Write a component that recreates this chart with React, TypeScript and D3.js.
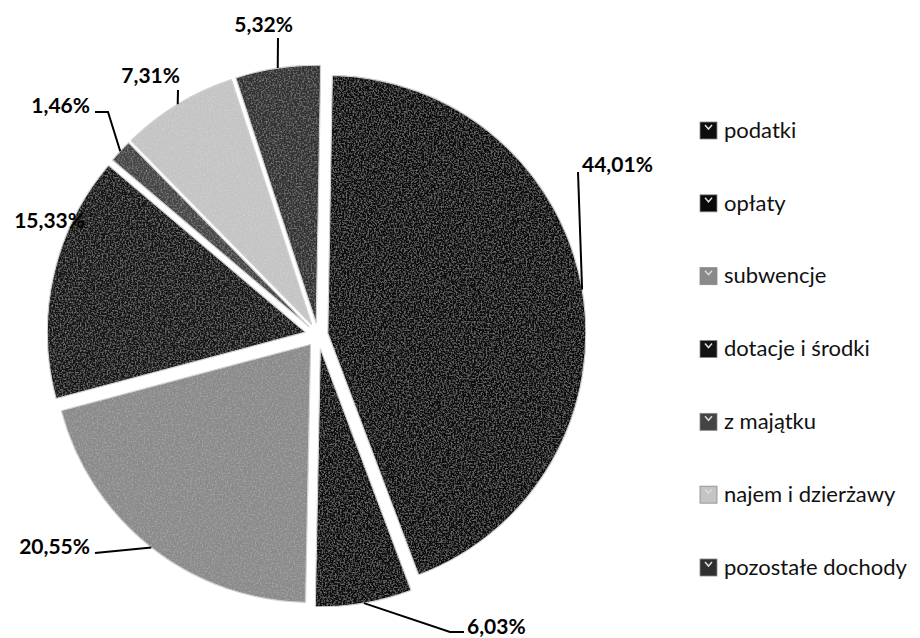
import * as d3 from "d3";
import { useEffect, useRef } from "react";

// shares of revenue (%), clockwise from 12 o'clock
const categories = [
  "podatki",
  "opłaty",
  "subwencje",
  "dotacje i środki",
  "z majątku",
  "najem i dzierżawy",
  "pozostałe dochody",
];
const shares = [44.01, 6.03, 20.55, 15.33, 1.46, 7.31, 5.32];
const shareLabels = ["44,01%", "6,03%", "20,55%", "15,33%", "1,46%", "7,31%", "5,32%"];

// style / layout
const fills = ["#0e0e0e", "#090909", "#8a8a8a", "#131313", "#444444", "#c4c4c4", "#303030"];
const explode = [10, 14, 12, 13, 12, 12, 12];
// label text anchor (x, baseline) and elbow of the leader line
const labelAt: [number, number, string][] = [
  [582, 172, "start"],
  [467, 634, "start"],
  [90, 554, "end"],
  [85, 228, "end"],
  [90, 113, "end"],
  [180, 83, "end"],
  [293, 32, "end"],
];
const leaderVia: ([number, number][] | null)[] = [
  [[578, 172]],
  [[450, 632], [464, 632]],
  [[95, 553]],
  null,
  [[108, 112], [95, 112]],
  [[178, 90]],
  [[278, 38]],
];

const W = 920;
const H = 638;
const cx = 318;
const cy = 335;
const R = 258;
const rot = (1 * Math.PI) / 180;

export default function App() {
  const ref = useRef<SVGSVGElement | null>(null);

  useEffect(() => {
    const svg = d3.select(ref.current);
    svg.selectAll("*").remove();

    // scanned-print speckle
    const defs = svg.append("defs");
    const f = defs
      .append("filter")
      .attr("id", "grain")
      .attr("x", 0)
      .attr("y", 0)
      .attr("width", 1)
      .attr("height", 1);
    f.append("feTurbulence")
      .attr("type", "fractalNoise")
      .attr("baseFrequency", 0.6)
      .attr("numOctaves", 2)
      .attr("seed", 3)
      .attr("result", "noise");
    f.append("feColorMatrix")
      .attr("in", "noise")
      .attr("type", "matrix")
      .attr("values", "0 0 0 0 1  0 0 0 0 1  0 0 0 0 1  0.45 0 0 0 -0.2")
      .attr("result", "speck");
    f.append("feComposite")
      .attr("in", "speck")
      .attr("in2", "SourceGraphic")
      .attr("operator", "in")
      .attr("result", "clip");
    const merge = f.append("feMerge");
    merge.append("feMergeNode").attr("in", "SourceGraphic");
    merge.append("feMergeNode").attr("in", "clip");

    const pie = d3
      .pie<number>()
      .sort(null)
      .value((d) => d)
      .startAngle(rot)
      .endAngle(2 * Math.PI + rot);
    const arcs = pie(shares);
    const arc = d3.arc<d3.PieArcDatum<number>>().innerRadius(0).outerRadius(R);

    const offset = (d: d3.PieArcDatum<number>, i: number) => {
      const m = (d.startAngle + d.endAngle) / 2;
      return [explode[i] * Math.sin(m), -explode[i] * Math.cos(m)];
    };

    const g = svg.append("g").attr("transform", `translate(${cx},${cy})`);
    g.selectAll("path")
      .data(arcs)
      .join("path")
      .attr("transform", (d, i) => {
        const [dx, dy] = offset(d, i);
        return `translate(${dx},${dy})`;
      })
      .attr("d", arc)
      .attr("fill", (_, i) => fills[i])
      .attr("stroke", "#d0d0d0")
      .attr("stroke-width", 1.2)
      .attr("filter", "url(#grain)");

    // leader lines from the middle of each outer arc
    const line = d3.line();
    arcs.forEach((d, i) => {
      const via = leaderVia[i];
      if (!via) return;
      const m = (d.startAngle + d.endAngle) / 2;
      const [dx, dy] = offset(d, i);
      const start: [number, number] = [
        cx + dx + R * Math.sin(m),
        cy + dy - R * Math.cos(m),
      ];
      svg
        .append("path")
        .attr("d", line([start, ...via]))
        .attr("fill", "none")
        .attr("stroke", "#000")
        .attr("stroke-width", 2);
    });

    svg
      .append("g")
      .selectAll("text")
      .data(shareLabels)
      .join("text")
      .attr("x", (_, i) => labelAt[i][0])
      .attr("y", (_, i) => labelAt[i][1])
      .attr("text-anchor", (_, i) => labelAt[i][2])
      .attr("font-family", "Lato, sans-serif")
      .attr("font-weight", 700)
      .attr("font-size", 21)
      .attr("fill", "#000")
      .text((d) => d);

    // legend
    const ly = d3.scalePoint<string>().domain(categories).range([130, 567]);
    const leg = svg
      .append("g")
      .selectAll("g")
      .data(categories)
      .join("g")
      .attr("transform", (d) => `translate(700,${ly(d)})`);
    leg
      .append("rect")
      .attr("x", 0)
      .attr("y", -8)
      .attr("width", 17)
      .attr("height", 17)
      .attr("fill", (_, i) => fills[i])
      .attr("stroke", "#888")
      .attr("stroke-width", 0.8);
    leg
      .append("path")
      .attr("d", "M5,-5 L8.5,-1 L12,-5")
      .attr("fill", "none")
      .attr("stroke", "#ddd")
      .attr("stroke-width", 1.5);
    leg
      .append("text")
      .attr("x", 24)
      .attr("dy", "0.35em")
      .attr("font-family", "Lato, sans-serif")
      .attr("font-size", 22)
      .attr("fill", "#111")
      .text((d) => d);
  }, []);

  return (
    <svg
      ref={ref}
      width={W}
      height={H}
      style={{ position: "absolute", left: 0, top: 0, background: "#fff" }}
    />
  );
}
